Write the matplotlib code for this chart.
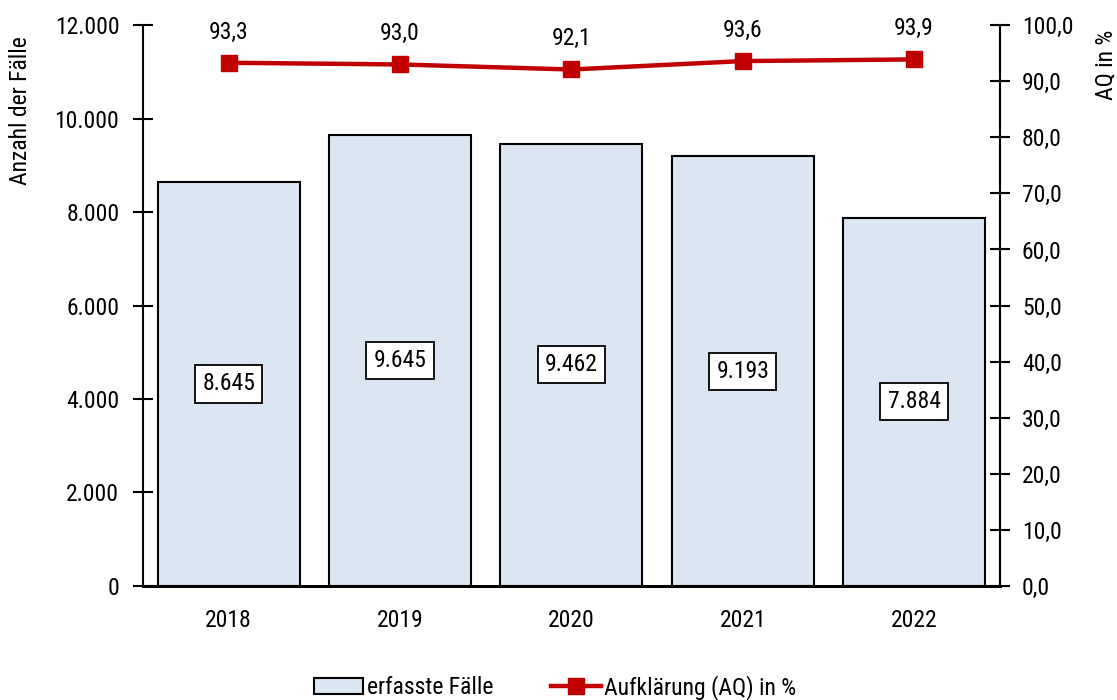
import matplotlib
matplotlib.use("Agg")
import matplotlib.pyplot as plt
import numpy as np

years = ["2018", "2019", "2020", "2021", "2022"]
faelle = [8645, 9645, 9462, 9193, 7884]
aq = [93.3, 93.0, 92.1, 93.6, 93.9]

plt.rcParams["font.family"] = ["Roboto Condensed", "Liberation Sans", "DejaVu Sans"]
plt.rcParams["font.size"] = 17


def de(v, dec):
    # German number format
    s = f"{v:,.{dec}f}"
    return s.replace(",", "X").replace(".", ",").replace("X", ".")


fig = plt.figure(figsize=(11.17, 7), dpi=100)
ax = fig.add_axes([0.128, 0.163, 0.767, 0.801])
x = np.arange(len(years))
bars = ax.bar(x, faelle, width=0.83, color="#DCE6F2", edgecolor="black", linewidth=1.5,
              label="erfasste Fälle", zorder=2)
ax.set_xlim(-0.5, len(years) - 0.5)
ax.set_ylim(0, 12000)
ax.set_yticks(np.arange(0, 12001, 2000))
ax.set_yticklabels([de(v, 0) for v in np.arange(0, 12001, 2000)])
ax.set_xticks(x)
ax.set_xticklabels(years)
ax.tick_params(axis="x", length=0, pad=16.5)
ax.tick_params(axis="y", direction="inout", length=14, width=1.5, pad=10)
ax.set_ylabel("Anzahl der Fälle")
ax.yaxis.set_label_coords(-0.129, 0.848)
for s in ["top", "right"]:
    ax.spines[s].set_visible(False)
ax.spines["left"].set_linewidth(1.5)
ax.spines["bottom"].set_linewidth(2.2)

for xi, v in zip(x, faelle):
    ax.text(xi, v / 2, de(v, 0), ha="center", va="center", zorder=4,
            bbox=dict(boxstyle="square,pad=0.3", facecolor="white", edgecolor="black", linewidth=1.3))

ax2 = ax.twinx()
ax2.set_ylim(0, 100)
ax2.set_yticks(np.arange(0, 101, 10))
ax2.set_yticklabels([de(v, 1) for v in np.arange(0, 101, 10)])
ax2.tick_params(axis="y", direction="inout", length=14, width=1.5, pad=9)
for s in ["top", "left", "bottom"]:
    ax2.spines[s].set_visible(False)
ax2.spines["right"].set_linewidth(1.5)
line, = ax2.plot(x, aq, color="#C00000", linewidth=3.2, marker="s", markersize=11,
                 label="Aufklärung (AQ) in %", zorder=5)
for xi, v in zip(x, aq):
    ax2.annotate(de(v, 1), (xi, v), xytext=(0, 22), textcoords="offset points",
                 ha="center", va="center")
ax2.set_ylabel("AQ in %")
ax2.yaxis.set_label_coords(1.111, 0.93)

fig.legend([bars, line], ["erfasste Fälle", "Aufklärung (AQ) in %"], loc="center",
           bbox_to_anchor=(0.497, 0.018), ncol=2, frameon=False, handlelength=2.1,
           handletextpad=0.15, columnspacing=2.45, borderpad=0)

fig.savefig("out.png", dpi=100)
